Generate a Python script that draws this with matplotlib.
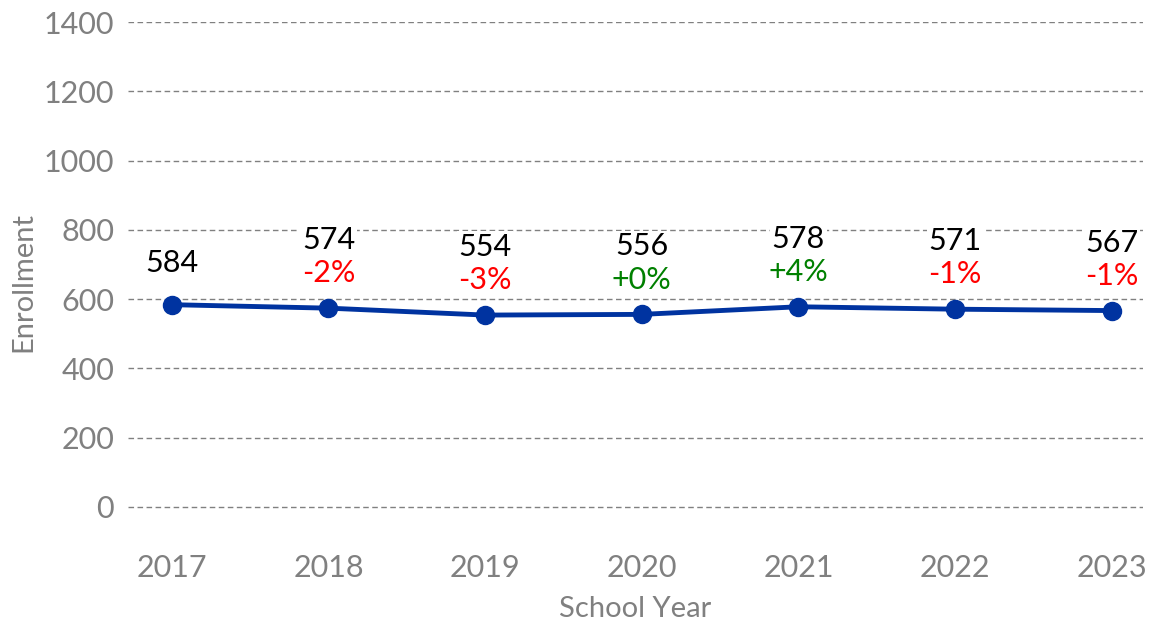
import matplotlib
matplotlib.use("Agg")
import matplotlib.pyplot as plt

years = ["2017", "2018", "2019", "2020", "2021", "2022", "2023"]
enrollment = [584, 574, 554, 556, 578, 571, 567]
pct_labels = ["", "-2%", "-3%", "+0%", "+4%", "-1%", "-1%"]
pct_colors = ["black", "red", "red", "green", "green", "red", "red"]
yticks = [0, 200, 400, 600, 800, 1000, 1200, 1400]

plt.rcParams['font.family'] = ['Lato', 'DejaVu Sans']
W, H = 1155, 626
fig = plt.figure(figsize=(W / 100, H / 100), dpi=100)
ymin, ymax = -100, 1400
y0px, y1400px = 507, 22
ppu = (y0px - y1400px) / 1400
bottom_px = y0px + (0 - ymin) * ppu
ax = fig.add_axes([128 / W, 1 - bottom_px / H, (1143 - 128) / W, (bottom_px - y1400px) / H])

x = list(range(len(years)))
ax.plot(x, enrollment, color="#0033A0", lw=3.5, marker="o", ms=13, zorder=5)

ax.set_xlim(-0.28, 6.2)
ax.set_ylim(ymin, ymax)
ax.set_yticks(yticks)
ax.set_yticklabels([str(v) for v in yticks])
ax.set_xticks(x)
ax.set_xticklabels(years)
for s in ax.spines.values():
    s.set_visible(False)
ax.tick_params(axis="both", length=0, labelsize=22, colors="#808080")
ax.tick_params(axis="y", pad=10)
ax.tick_params(axis="x", pad=9)
ax.grid(axis="y", color="#808080", ls=(0, (4, 2.5)), lw=1)
ax.set_axisbelow(True)

ax.set_ylabel("Enrollment", fontsize=21, color="#808080", labelpad=5)
ax.set_xlabel("School Year", fontsize=21, color="#808080", labelpad=10)

bbox = dict(facecolor="white", edgecolor="none", pad=1)
for i, (v, p, c) in enumerate(zip(enrollment, pct_labels, pct_colors)):
    if p:
        ax.annotate(str(v), (i, v), xytext=(0, 49), textcoords="offset points",
                    ha="center", va="center", fontsize=22, color="black", bbox=bbox, zorder=6)
        ax.annotate(p, (i, v), xytext=(0, 25), textcoords="offset points",
                    ha="center", va="center", fontsize=22, color=c, bbox=bbox, zorder=6)
    else:
        ax.annotate(str(v), (i, v), xytext=(0, 30), textcoords="offset points",
                    ha="center", va="center", fontsize=22, color="black", bbox=bbox, zorder=6)

fig.savefig("out.png", dpi=100)
